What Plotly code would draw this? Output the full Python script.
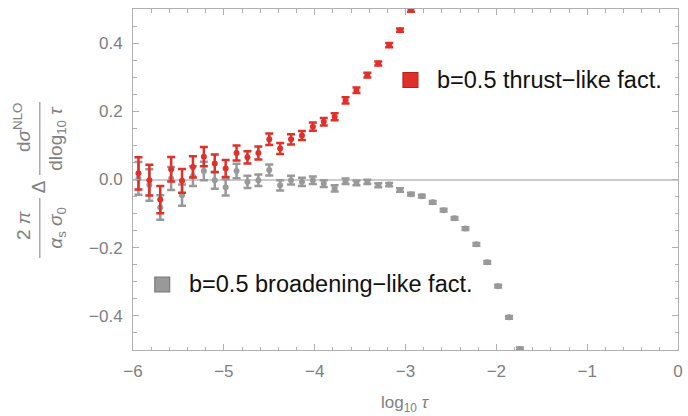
import plotly.graph_objects as go

# ---- data ----
log_tau = [-5.94, -5.82, -5.70, -5.58, -5.46, -5.34, -5.22, -5.10, -4.98, -4.86,
           -4.74, -4.62, -4.50, -4.38, -4.26, -4.14, -4.02, -3.90, -3.78, -3.66,
           -3.54, -3.42, -3.30, -3.18, -3.06, -2.94, -2.82, -2.70, -2.58, -2.46,
           -2.34, -2.22, -2.10, -1.98, -1.86, -1.74]

thrust_vals = [0.018, -0.002, -0.059, 0.030, -0.004, 0.037, 0.067, 0.047, 0.032, 0.078,
               0.065, 0.078, 0.118, 0.091, 0.118, 0.129, 0.155, 0.169, 0.184, 0.232,
               0.262, 0.306, 0.340, 0.394, 0.438, 0.497]
thrust_err = [0.047, 0.045, 0.040, 0.036, 0.035, 0.031, 0.028, 0.026, 0.025, 0.022,
              0.018, 0.019, 0.017, 0.016, 0.015, 0.013, 0.012, 0.011, 0.010, 0.009,
              0.008, 0.007, 0.006, 0.006, 0.005, 0.005]

broad_vals = [0.003, -0.016, -0.082, 0.003, -0.046, 0.010, 0.025, -0.002, -0.023, 0.025,
              -0.007, -0.002, 0.028, -0.017, -0.002, -0.007, -0.002, -0.012, -0.026, -0.005,
              -0.010, -0.007, -0.017, -0.015, -0.031, -0.043, -0.049, -0.067, -0.090, -0.114,
              -0.144, -0.190, -0.243, -0.313, -0.404, -0.497]
broad_err = [0.048, 0.046, 0.036, 0.034, 0.031, 0.029, 0.027, 0.025, 0.024, 0.021,
             0.018, 0.017, 0.016, 0.015, 0.013, 0.012, 0.011, 0.010, 0.009, 0.008,
             0.007, 0.006, 0.006, 0.005, 0.005, 0.004, 0.004, 0.004, 0.004, 0.004,
             0.004, 0.004, 0.004, 0.004, 0.004, 0.004]

thrust_label = "b=0.5 thrust\u2212like fact."
broad_label = "b=0.5 broadening\u2212like fact."
x_ticks = [-6, -5, -4, -3, -2, -1, 0]
y_ticks = [-0.4, -0.2, 0.0, 0.2, 0.4]

# ---- styles ----
RED = "#e0302a"
RED_EDGE = "#b52218"
GRAY = "#999999"
GRAY_EDGE = "#7a7a7a"
AX = "#b0b0b0"
TXT = "#808080"
FONT = "Liberation Sans, Arial, sans-serif"

W, H = 688, 416
L, R, T, B = 133, 683, 9, 350


def px(x):
    return (x - L) / (R - L)


def py(y):
    return (B - y) / (B - T)


fig = go.Figure()

fig.add_trace(go.Scatter(
    x=log_tau[:len(broad_vals)], y=broad_vals, mode="markers",
    marker=dict(color=GRAY, size=6),
    error_y=dict(type="data", array=broad_err, visible=True, color=GRAY,
                 thickness=2.5, width=4),
    cliponaxis=True, showlegend=False, name=broad_label))

fig.add_trace(go.Scatter(
    x=log_tau[:len(thrust_vals)], y=thrust_vals, mode="markers",
    marker=dict(color=RED, size=6),
    error_y=dict(type="data", array=thrust_err, visible=True, color=RED,
                 thickness=2.5, width=4),
    cliponaxis=True, showlegend=False, name=thrust_label))

axis_common = dict(
    showline=True, linecolor=AX, linewidth=1, mirror="allticks",
    ticks="inside", ticklen=6, tickwidth=1, tickcolor=AX,
    showgrid=False, tickfont=dict(family=FONT, size=17, color=TXT),
)

fig.update_xaxes(range=[-6, 0], tickvals=x_ticks, zeroline=False,
                 minor=dict(dtick=0.2, ticks="inside", ticklen=3.5, tickcolor=AX,
                            showgrid=False),
                 ticklabelstandoff=6, **axis_common)
fig.update_yaxes(range=[-0.5, 0.5], tickvals=y_ticks, tickformat=".1f",
                 zeroline=True, zerolinecolor="#cccccc", zerolinewidth=1.5,
                 minor=dict(dtick=0.05, ticks="inside", ticklen=3.5, tickcolor=AX,
                            showgrid=False),
                 ticklabelstandoff=6, **axis_common)

annotations = []
shapes = []

# y-axis label built as a rotated typeset fraction
lab_font = dict(family=FONT, size=19, color=TXT)
for text, x0, y0 in [
    ("d<i>σ</i><sup>NLO</sup>", 21, 128),
    ("dlog<sub>10</sub> <i>τ</i>", 56, 138),
    ("Δ", 37.5, 187),
    ("2 <i>π</i>", 22, 225),
    ("<i>α</i><sub>s</sub> <i>σ</i><sub>0</sub>", 56, 228),
]:
    annotations.append(dict(text=text, x=px(x0), y=py(y0), xref="paper", yref="paper",
                            xanchor="center", yanchor="middle", textangle=-90,
                            showarrow=False, font=lab_font))
for y1, y2 in [(102, 175), (198, 258)]:
    shapes.append(dict(type="line", xref="paper", yref="paper",
                       x0=px(39), x1=px(39), y0=py(y1), y1=py(y2),
                       line=dict(color=TXT, width=1)))

# x-axis title
annotations.append(dict(text="log<sub>10</sub> <i>τ</i>", x=px(408), y=py(404),
                        xref="paper", yref="paper", xanchor="center", yanchor="middle",
                        showarrow=False, font=dict(family=FONT, size=17, color=TXT)))

# legends
leg_font = dict(family=FONT, size=23.5, color="#111111")
for label, cx, cy, fill, edge in [
    (thrust_label, 413, 80, RED, RED_EDGE),
    (broad_label, 162.5, 284.5, GRAY, GRAY_EDGE),
]:
    shapes.append(dict(type="rect", xref="paper", yref="paper",
                       x0=px(cx - 7.5), x1=px(cx + 7.5), y0=py(cy + 7.5), y1=py(cy - 7.5),
                       fillcolor=fill, line=dict(color=edge, width=1.2)))
    annotations.append(dict(text=label, x=px(cx + 25), y=py(cy - 0.5),
                            xref="paper", yref="paper", xanchor="left", yanchor="middle",
                            showarrow=False, font=leg_font))

fig.update_layout(
    width=W, height=H,
    margin=dict(l=L, r=W - R, t=T, b=H - B, pad=0),
    paper_bgcolor="white", plot_bgcolor="white",
    annotations=annotations, shapes=shapes,
    font=dict(family=FONT),
)

fig.write_html("out.html",
               config={"displayModeBar": False},
               post_script="document.body.style.margin='0';"
                           "document.body.style.overflow='hidden';")
